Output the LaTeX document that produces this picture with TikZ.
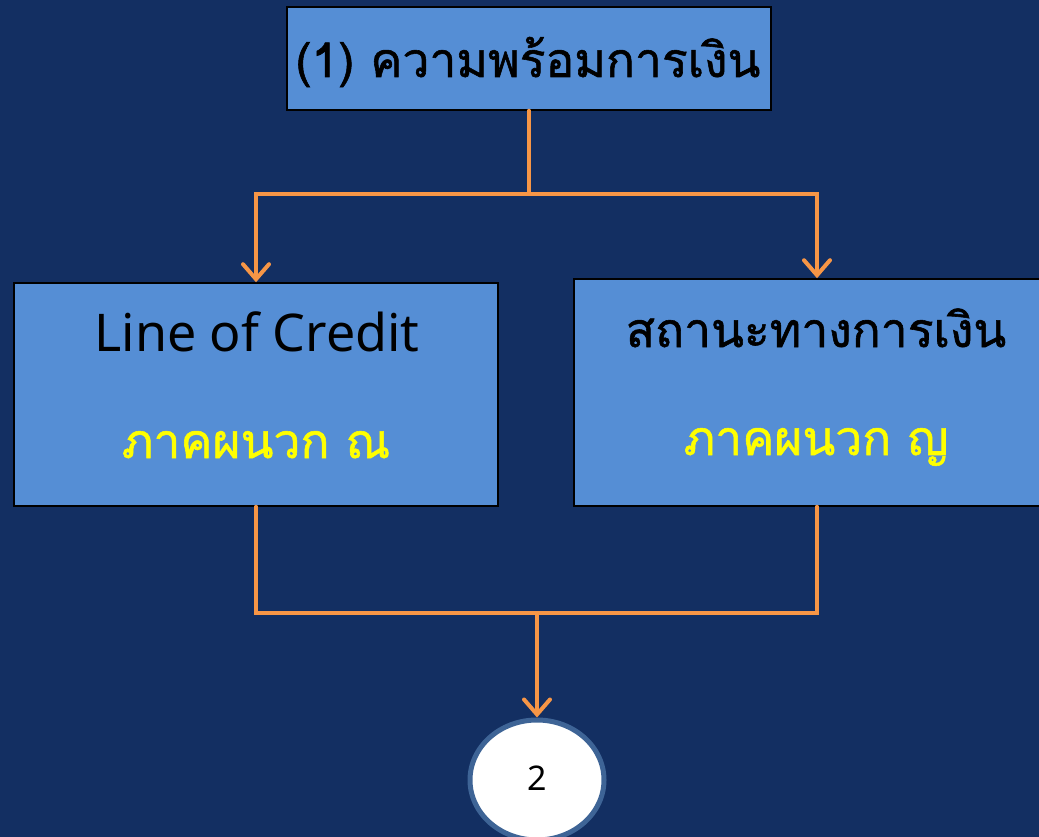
\documentclass[tikz,border=0pt]{standalone}
\usepackage{fontspec}
\newfontfamily\thaifont[Script=Thai,FakeBold=1.2]{Loma}
\newfontfamily\latinfont{Noto Sans}
\usetikzlibrary{arrows.meta,shapes.geometric}
\definecolor{bgnavy}{HTML}{132F62}
\definecolor{boxblue}{HTML}{558ED5}
\definecolor{connorange}{HTML}{F79646}
\definecolor{ringblue}{HTML}{3E6496}
\definecolor{labyellow}{HTML}{FFFF00}
\tikzset{
  box/.style={draw=black, line width=1.5pt, fill=boxblue, rectangle, inner sep=0pt},
  conn/.style={draw=connorange, line width=4pt, line cap=round, line join=miter},
  arr/.style={conn, -{Straight Barb[length=15pt, width=26pt, line cap=round]}},
  thaitxt/.style={font=\thaifont\fontsize{48}{54}\selectfont, inner sep=0pt, anchor=base},
  engtxt/.style={font=\latinfont\fontsize{52}{58}\selectfont, inner sep=0pt, anchor=base},
}
\begin{document}
\begin{tikzpicture}[x=1pt,y=-1pt]
\fill[bgnavy] (0,0) rectangle (1039,837);
\useasboundingbox (0,0) rectangle (1039,837);
\node[box, minimum width=484pt, minimum height=103pt] (top) at (529,58.5) {};
\node[box, minimum width=484pt, minimum height=223pt] (lbox) at (256,394.5) {};
\node[box, minimum width=486pt, minimum height=227pt] (rbox) at (817,392.5) {};
\node[draw=ringblue, line width=5pt, fill=white, ellipse, minimum width=134pt, minimum height=120pt, inner sep=0pt] (circ) at (537,780) {};
\node[font=\latinfont\fontsize{34}{40}\selectfont, inner sep=0pt] (two) at (537,778) {2};
\node[thaitxt] (toptxt) at (528,77) {(1) ความพร้อมการเงิน};
\node[engtxt] (ltxt) at (257,351) {Line of Credit};
\node[thaitxt, text=labyellow] (lsub) at (256,458) {ภาคผนวก ณ};
\node[thaitxt] (rtxt) at (816,347) {สถานะทางการเงิน};
\node[thaitxt, text=labyellow] (rsub) at (816,455) {ภาคผนวก ญ};
\coordinate (split) at (529,194);
\coordinate (join) at (537,613);
\draw[conn] (top.south) -- (split);
\draw[arr] (split) -| (lbox.north);
\draw[arr] (split) -| (rbox.north);
\draw[conn] (lbox.south) |- (join) -| (rbox.south);
\draw[arr] (join) -- (circ.north);
\end{tikzpicture}
\end{document}
